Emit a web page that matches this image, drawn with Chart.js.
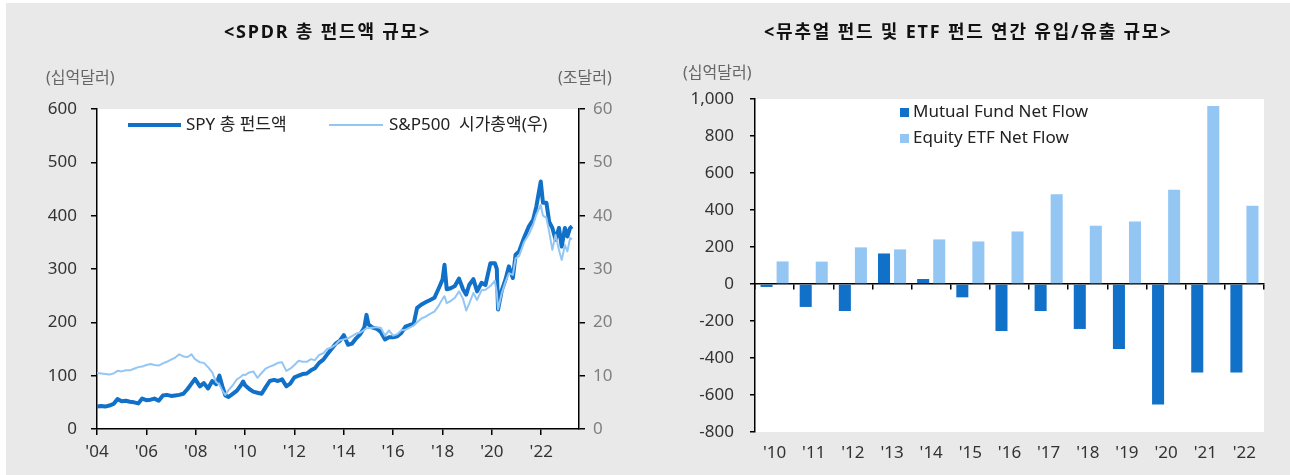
<!DOCTYPE html>
<html>
<head>
<meta charset="utf-8">
<script src="https://cdn.jsdelivr.net/npm/chart.js@4.4.1/dist/chart.umd.min.js"></script>
<style>
  body { margin: 0; background: #fff; font-family: 'Noto Sans', 'Noto Sans CJK KR', sans-serif; }
  #wrap { position: relative; width: 1290px; height: 475px; overflow: hidden; }
  #panel { position: absolute; left: 6px; top: 3px; right: 0; bottom: 0; background: #e9e9e9; }
  .box { position: absolute; top: 0; width: 645px; height: 475px; }
  .title { position: absolute; top: 17px; font-weight: bold; font-size: 18px; color: #111; letter-spacing: 1.8px; white-space: nowrap; }
  .unit { position: absolute; font-size: 16px; color: #666; white-space: nowrap; }
  .leg { position: absolute; font-size: 17px; color: #222; white-space: nowrap; line-height: 20px; }
  .leg i { display: inline-block; vertical-align: middle; }
</style>
</head>
<body>
<div id="wrap">
  <div id="panel"></div>
  <div class="box" style="left:0"><canvas id="chartSpy" width="645" height="475"></canvas></div>
  <div class="box" style="left:645px"><canvas id="chartFlow" width="645" height="475"></canvas></div>

  <div class="title" id="titleLeft" style="left:224px">&lt;SPDR 총 펀드액 규모&gt;</div>
  <div class="title" id="titleRight" style="left:764px">&lt;뮤추얼 펀드 및 ETF 펀드 연간 유입/유출 규모&gt;</div>
  <div class="unit" style="left:46px;top:64px">(십억달러)</div>
  <div class="unit" style="left:558px;top:64px">(조달러)</div>
  <div class="unit" style="left:683px;top:59px">(십억달러)</div>

  <div class="leg" style="left:128px;top:114px"><i style="width:53px;height:4px;background:#1170c8;margin-right:5px"></i>SPY 총 펀드액</div>
  <div class="leg" style="left:329px;top:114px"><i style="width:54px;height:2px;background:#94c6f4;margin-right:6px"></i>S&amp;P500&nbsp; 시가총액(우)</div>
  <div class="leg" style="left:900px;top:101px"><i style="width:9px;height:9px;background:#1170c8;margin-right:4px"></i>Mutual Fund Net Flow</div>
  <div class="leg" style="left:900px;top:127px"><i style="width:9px;height:9px;background:#94c6f4;margin-right:4px"></i>Equity ETF Net Flow</div>
</div>
<script>
// 왼쪽 차트: SPY 펀드액 (십억달러), S&P500 시가총액 (조달러)
var lineDates = [
  2004.00, 2004.17, 2004.33, 2004.50, 2004.67, 2004.83,
  2005.00, 2005.17, 2005.33, 2005.50, 2005.67, 2005.83,
  2006.00, 2006.17, 2006.33, 2006.50, 2006.67, 2006.83,
  2007.00, 2007.17, 2007.33, 2007.50, 2007.67, 2007.83, 2007.97,
  2008.17, 2008.33, 2008.50, 2008.67, 2008.83, 2008.96,
  2009.08, 2009.20, 2009.33, 2009.50, 2009.67, 2009.83, 2009.92,
  2010.00, 2010.17, 2010.33, 2010.50, 2010.67, 2010.83,
  2011.00, 2011.17, 2011.33, 2011.50, 2011.67, 2011.83,
  2012.00, 2012.17, 2012.33, 2012.50, 2012.67, 2012.83,
  2013.00, 2013.17, 2013.33, 2013.50, 2013.67, 2013.83,
  2014.00, 2014.17, 2014.33, 2014.50, 2014.67, 2014.83, 2014.92,
  2015.00, 2015.17, 2015.33, 2015.50, 2015.67, 2015.83,
  2016.00, 2016.17, 2016.33, 2016.50, 2016.67, 2016.83, 2016.97,
  2017.17, 2017.33, 2017.50, 2017.67, 2017.83,
  2018.00, 2018.08, 2018.17, 2018.33, 2018.50, 2018.67, 2018.83, 2018.96,
  2019.08, 2019.25, 2019.40, 2019.58, 2019.74, 2019.94,
  2020.12, 2020.20, 2020.25, 2020.40, 2020.55, 2020.69, 2020.85, 2020.96,
  2021.10, 2021.30, 2021.50, 2021.67, 2021.80, 2021.98,
  2022.07, 2022.21, 2022.32, 2022.45, 2022.58, 2022.72, 2022.83, 2022.96,
  2023.06, 2023.17, 2023.25
];
var spyFund = [
  42, 43, 42, 44, 47, 56,
  52, 53, 51, 50, 48, 57,
  54, 55, 57, 53, 63, 64,
  62, 63, 64, 66, 75, 85, 94,
  80, 86, 76, 90, 84, 100,
  80, 63, 60, 66, 72, 82, 89,
  82, 75, 70, 68, 66, 78,
  90, 92, 90, 93, 80, 85,
  97, 100, 103, 104, 110, 114,
  124, 130, 140, 150, 160, 165,
  176, 158, 160, 170, 178, 190, 214,
  196, 190, 188, 182, 168, 172,
  172, 174, 180, 192, 195, 197, 227,
  234, 238, 242, 246, 262,
  280, 308, 262, 264, 268, 282, 262, 252,
  270, 281, 258, 274, 270, 311,
  311, 300, 224, 260, 280, 305, 283, 327,
  333, 358, 380, 392, 417, 464,
  424, 424, 389, 377, 355, 377, 342, 377,
  361, 377, 380
];
var spxCap = [
  10.5, 10.4, 10.3, 10.2, 10.4, 10.9,
  10.8, 11.0, 11.0, 11.3, 11.6, 11.7,
  12.0, 12.2, 12.0, 11.9, 12.3, 12.6,
  13.0, 13.4, 14.0, 13.6, 13.5, 14.0, 13.1,
  12.5, 12.4, 11.6, 10.6, 8.8, 8.3,
  7.2, 6.4, 7.3, 8.2, 9.3, 9.8, 10.2,
  10.1, 10.6, 10.8, 9.6, 10.5, 11.3,
  11.7, 12.0, 12.4, 12.5, 10.9, 11.3,
  12.0, 12.8, 12.6, 12.6, 13.1, 12.9,
  13.9, 14.2, 15.0, 15.3, 15.8, 16.6,
  16.8, 17.0, 17.4, 17.9, 18.1, 18.6, 18.9,
  18.9, 19.0, 19.1, 19.0, 17.5, 18.5,
  17.5, 17.8, 18.5, 18.6, 19.0, 19.4, 20.0,
  20.8, 21.1, 21.6, 22.0, 23.0,
  24.4, 24.9, 23.6, 24.0, 24.6, 25.8, 24.4, 22.2,
  23.5, 25.5, 24.2, 26.0, 26.1, 26.8,
  27.8, 25.5, 22.4, 25.5, 27.6, 29.2, 28.9, 32.0,
  32.4, 35.0, 36.5, 38.3, 40.2, 42.0,
  40.0, 39.6, 37.0, 33.6, 36.4, 33.5, 31.7, 34.5,
  33.3, 35.8, 35.6
];

// 오른쪽 차트: 연간 유입/유출 (십억달러)
var flowYears = ["'10", "'11", "'12", "'13", "'14", "'15", "'16", "'17", "'18", "'19", "'20", "'21", "'22"];
var mutualFundFlow = [-16, -124, -146, 165, 27, -72, -254, -146, -243, -351, -652, -479, -479];
var etfFlow = [122, 121, 198, 187, 241, 230, 284, 485, 315, 338, 510, 962, 423];

var darkBlue = "#1170c8";
var lightBlue = "#94c6f4";
var tickFont = { family: "'Noto Sans', 'Noto Sans CJK KR', sans-serif", size: 17 };

// 플롯 영역 흰 배경
var whiteArea = {
    id: "whiteArea",
    beforeDraw: function (chart) {
        var a = chart.chartArea;
        var ctx = chart.ctx;
        ctx.save();
        ctx.fillStyle = "#ffffff";
        ctx.fillRect(a.left, a.top, a.right - a.left, a.bottom - a.top);
        ctx.restore();
    }
};

function toPoints(xs, ys) {
    return xs.map(function (x, i) { return { x: x, y: ys[i] }; });
}

function axisGrid() {
    return { display: true, drawOnChartArea: false, drawTicks: true, tickLength: 6, color: "#000", lineWidth: 1.5 };
}

new Chart(document.getElementById("chartSpy"), {
    type: "line",
    data: {
        datasets: [{
            label: "SPY 총 펀드액",
            data: toPoints(lineDates, spyFund),
            borderColor: darkBlue,
            borderWidth: 4,
            yAxisID: "y",
            order: 1
        }, {
            label: "S&P500  시가총액(우)",
            data: toPoints(lineDates, spxCap),
            borderColor: lightBlue,
            borderWidth: 2,
            yAxisID: "y1",
            order: 0
        }]
    },
    options: {
        responsive: false,
        animation: false,
        layout: { padding: { left: 0, right: 0, top: 109, bottom: 0 } },
        elements: { point: { radius: 0 }, line: { tension: 0, borderJoinStyle: "round" } },
        plugins: { legend: { display: false }, title: { display: false }, tooltip: { enabled: false } },
        scales: {
            x: {
                type: "linear",
                min: 2004,
                max: 2023.53,
                grid: axisGrid(),
                border: { display: true, color: "#000", width: 1.5 },
                ticks: {
                    stepSize: 2,
                    includeBounds: false,
                    padding: 7,
                    maxRotation: 0,
                    color: "#333",
                    font: tickFont,
                    callback: function (v) { return "'" + String(v).slice(2); }
                },
                afterFit: function (s) { s.height = 46; }
            },
            y: {
                position: "left",
                min: 0,
                max: 600,
                grid: axisGrid(),
                border: { display: true, color: "#000", width: 1.5 },
                ticks: { stepSize: 100, padding: 14, color: "#333", font: tickFont },
                afterFit: function (s) { s.width = 97; }
            },
            y1: {
                position: "right",
                min: 0,
                max: 60,
                grid: axisGrid(),
                border: { display: true, color: "#000", width: 1.5 },
                ticks: { stepSize: 10, padding: 8, color: "#808080", font: tickFont },
                afterFit: function (s) { s.width = 66; }
            }
        }
    },
    plugins: [whiteArea]
});

new Chart(document.getElementById("chartFlow"), {
    type: "bar",
    data: {
        labels: flowYears,
        datasets: [{
            label: "Mutual Fund Net Flow",
            data: mutualFundFlow,
            backgroundColor: darkBlue,
            categoryPercentage: 0.82,
            barPercentage: 0.75
        }, {
            label: "Equity ETF Net Flow",
            data: etfFlow,
            backgroundColor: lightBlue,
            categoryPercentage: 0.82,
            barPercentage: 0.75
        }]
    },
    options: {
        responsive: false,
        animation: false,
        layout: { padding: { left: 0, right: 26, top: 99, bottom: 0 } },
        plugins: { legend: { display: false }, title: { display: false }, tooltip: { enabled: false } },
        scales: {
            x: {
                position: "bottom",
                grid: { display: false },
                border: { display: false },
                ticks: { padding: 3, color: "#333", font: tickFont, maxRotation: 0 },
                afterFit: function (s) { s.height = 43; }
            },
            x2: {
                type: "category",
                position: { y: 0 },
                offset: true,
                grid: { display: true, offset: true, drawOnChartArea: false, drawTicks: true, tickLength: 5, color: "#000", lineWidth: 1.5 },
                border: { display: true, color: "#000", width: 1.5 },
                ticks: { display: false }
            },
            y: {
                min: -800,
                max: 1000,
                grid: { display: true, drawOnChartArea: false, drawTicks: true, tickLength: 5, color: "#000", lineWidth: 1.5 },
                border: { display: true, color: "#000", width: 1.5 },
                ticks: {
                    stepSize: 200,
                    padding: 16,
                    color: "#333",
                    font: tickFont,
                    callback: function (v) { return v.toLocaleString("en-US"); }
                },
                afterFit: function (s) { s.width = 110; }
            }
        }
    },
    plugins: [whiteArea]
});
</script>
</body>
</html>
